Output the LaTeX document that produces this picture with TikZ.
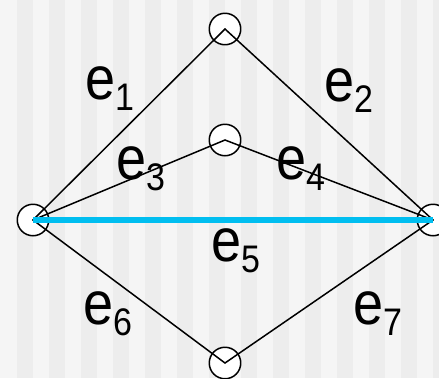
\documentclass[tikz,border=0pt]{standalone}
\usepackage{graphicx}
\usepackage{fontspec}
\setmainfont{Liberation Sans}
\definecolor{paper}{HTML}{F5F5F5}
\definecolor{stripe}{HTML}{EDEDED}
\definecolor{edgeblue}{RGB}{0,190,240}
% edge name: e with a lowered index
\newcommand{\edgelbl}[1]{\scalebox{1}[1.13]{\fontsize{54}{54}\selectfont e\raisebox{-10pt}{\fontsize{34}{34}\selectfont #1}}}
\begin{document}
\begin{tikzpicture}[x=1pt,y=-1pt, line join=round, line cap=round,
	vertex/.style={circle,draw,fill=white,line width=1.5pt,minimum size=31.5pt,inner sep=0pt},
	edge/.style={line width=1.5pt},
	lbl/.style={anchor=base west,inner sep=0pt}]
	\def\W{439} \def\H{378} % page size
	\useasboundingbox (0,0) rectangle (\W,\H);
	\fill[paper] (0,0) rectangle (\W,\H);
	\clip (0,0) rectangle (\W,\H);
	\foreach \k in {0,...,13} \fill[stripe] ({17+32*\k},0) rectangle +(16,\H);
	% vertices
	\node[vertex] (l) at (33,220) {};
	\node[vertex] (t) at (225,29) {};
	\node[vertex] (m) at (225,140) {};
	\node[vertex] (r) at (433,220) {};
	\node[vertex] (b) at (225,363) {};
	% edges
	\draw[edge] (l.center) -- (t.center);
	\draw[edge] (t.center) -- (r.center);
	\draw[edge] (l.center) -- (m.center);
	\draw[edge] (m.center) -- (r.center);
	\draw[edge] (l.center) -- (b.center);
	\draw[edge] (b.center) -- (r.center);
	\draw[line width=5.5pt, line cap=butt, edgeblue] (l.center) -- (r.center);
	% labels
	\node[lbl] (e1) at (85,99) {\edgelbl{1}};
	\node[lbl] (e2) at (324,101) {\edgelbl{2}};
	\node[lbl] (e3) at (116,179) {\edgelbl{3}};
	\node[lbl] (e4) at (276,179) {\edgelbl{4}};
	\node[lbl] (e5) at (211,261) {\edgelbl{5}};
	\node[lbl] (e6) at (83,324) {\edgelbl{6}};
	\node[lbl] (e7) at (353,324) {\edgelbl{7}};
\end{tikzpicture}
\end{document}
